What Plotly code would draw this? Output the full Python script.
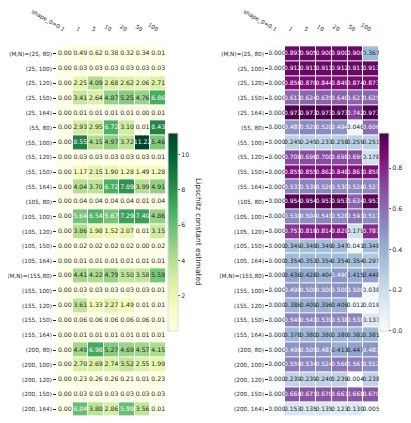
import plotly.graph_objects as go
from plotly.subplots import make_subplots

# Column / row labels
shapes = ["shape_0=0.1", "1", "5", "10", "20", "50", "100"]
rows = ["(M,N)=(25, 80)", "(25, 100)", "(25, 120)", "(25, 150)", "(25, 164)",
        "(55, 80)", "(55, 100)", "(55, 120)", "(55, 150)", "(55, 164)",
        "(105, 80)", "(105, 100)", "(105, 120)", "(105, 150)", "(105, 164)",
        "(M,N)=(155,80)", "(155, 100)", "(155, 120)", "(155, 150)", "(155, 164)",
        "(200, 80)", "(200, 100)", "(200, 120)", "(200, 150)", "(200, 164)"]

# Lipschitz constant estimated
lipschitz = [
    [0.00, 0.49, 0.62, 0.38, 0.32, 0.34, 0.01],
    [0.00, 0.03, 0.03, 0.03, 0.03, 0.03, 0.03],
    [0.00, 2.25, 4.09, 2.68, 2.62, 2.06, 2.71],
    [0.00, 3.41, 2.64, 4.87, 5.25, 4.76, 6.86],
    [0.00, 0.01, 0.01, 0.01, 0.01, 0.00, 0.01],
    [0.00, 2.93, 2.95, 6.72, 3.10, 0.01, 8.43],
    [0.00, 8.55, 4.15, 4.97, 3.72, 11.22, 5.46],
    [0.00, 0.03, 0.03, 0.03, 0.03, 0.03, 0.01],
    [0.00, 1.17, 2.15, 1.90, 1.28, 1.49, 1.28],
    [0.00, 4.04, 3.70, 6.72, 7.89, 3.99, 4.91],
    [0.00, 0.04, 0.04, 0.04, 0.04, 0.01, 0.04],
    [0.00, 5.64, 6.54, 5.67, 7.29, 7.40, 4.86],
    [0.00, 3.86, 1.98, 1.52, 2.07, 0.01, 3.15],
    [0.00, 0.02, 0.02, 0.02, 0.02, 0.00, 0.02],
    [0.00, 0.01, 0.01, 0.01, 0.01, 0.01, 0.01],
    [0.00, 4.41, 4.22, 4.79, 3.50, 3.58, 5.59],
    [0.00, 0.03, 0.03, 0.03, 0.03, 0.03, 0.01],
    [0.00, 3.61, 1.33, 2.27, 1.49, 0.01, 0.01],
    [0.00, 0.06, 0.06, 0.06, 0.06, 0.06, 0.01],
    [0.00, 0.01, 0.01, 0.01, 0.01, 0.01, 0.01],
    [0.00, 4.49, 6.98, 5.27, 4.69, 4.57, 4.15],
    [0.00, 2.70, 2.69, 2.74, 3.52, 2.55, 1.99],
    [0.00, 0.23, 0.26, 0.26, 0.21, 0.01, 0.23],
    [0.00, 0.03, 0.03, 0.03, 0.03, 0.03, 0.03],
    [0.00, 6.04, 3.80, 2.86, 5.99, 3.56, 0.01],
]

# p-values
pvalues = [
    [0.000, 0.897, 0.905, 0.900, 0.900, 0.906, 0.367],
    [0.000, 0.912, 0.911, 0.911, 0.912, 0.911, 0.913],
    [0.000, 0.856, 0.870, 0.844, 0.849, 0.874, 0.873],
    [0.000, 0.613, 0.624, 0.635, 0.640, 0.627, 0.625],
    [0.000, 0.973, 0.973, 0.973, 0.973, 0.742, 0.973],
    [0.000, 0.487, 0.529, 0.520, 0.494, 0.046, 0.606],
    [0.000, 0.245, 0.245, 0.233, 0.258, 0.259, 0.251],
    [0.000, 0.700, 0.696, 0.700, 0.698, 0.699, 0.178],
    [0.000, 0.855, 0.855, 0.862, 0.848, 0.861, 0.858],
    [0.000, 0.537, 0.539, 0.526, 0.530, 0.526, 0.527],
    [0.000, 0.954, 0.954, 0.953, 0.953, 0.634, 0.953],
    [0.000, 0.530, 0.504, 0.541, 0.528, 0.591, 0.517],
    [0.000, 0.757, 0.816, 0.814, 0.829, 0.179, 0.787],
    [0.000, 0.349, 0.348, 0.349, 0.347, 0.041, 0.348],
    [0.000, 0.354, 0.353, 0.354, 0.354, 0.354, 0.297],
    [0.000, 0.436, 0.428, 0.404, 0.490, 0.415, 0.448],
    [0.000, 0.498, 0.500, 0.500, 0.500, 0.500, 0.038],
    [0.000, 0.386, 0.409, 0.396, 0.406, 0.012, 0.018],
    [0.000, 0.540, 0.541, 0.539, 0.538, 0.538, 0.137],
    [0.000, 0.378, 0.380, 0.380, 0.380, 0.382, 0.381],
    [0.000, 0.490, 0.505, 0.487, 0.413, 0.447, 0.487],
    [0.000, 0.559, 0.534, 0.524, 0.566, 0.561, 0.512],
    [0.000, 0.239, 0.239, 0.240, 0.239, 0.004, 0.238],
    [0.000, 0.669, 0.671, 0.670, 0.667, 0.668, 0.670],
    [0.000, 0.153, 0.135, 0.135, 0.123, 0.130, 0.005],
]

FONT = "DejaVu Sans"
DARK = "#262626"
W, H = 411, 423

fig = make_subplots(rows=1, cols=2)


def add_labels(z, fmt, thresh, col, size):
    # split annotations into dark / light text like seaborn does
    for light in (False, True):
        xs, ys, ts = [], [], []
        for i, r in enumerate(rows):
            for j, s in enumerate(shapes):
                v = z[i][j]
                if (v > thresh) == light:
                    xs.append(s)
                    ys.append(r)
                    ts.append(fmt.format(v))
        fig.add_trace(go.Scatter(
            x=xs, y=ys, text=ts, mode="text", showlegend=False, hoverinfo="skip",
            textfont=dict(family=FONT, size=size, color="white" if light else DARK),
        ), row=1, col=col)


cbar_common = dict(xanchor="left", y=0.499, yanchor="middle", len=0.501,
                   thickness=10, xpad=0, ypad=0, ticks="outside", ticklen=2,
                   outlinewidth=1, outlinecolor="#dddddd",
                   tickfont=dict(family=FONT, size=6.3, color=DARK))

fig.add_trace(go.Heatmap(
    z=lipschitz, x=shapes, y=rows, colorscale="YlGn", zmin=0, zmax=11.22,
    xgap=1, ygap=1,
    colorbar=dict(x=160 / W, tickvals=[2, 4, 6, 8, 10], **cbar_common),
), row=1, col=1)
add_labels(lipschitz, "{:.2f}", 5.6, 1, 6.2)

fig.add_trace(go.Heatmap(
    z=pvalues, x=shapes, y=rows, colorscale="BuPu", zmin=0, zmax=0.973,
    xgap=1, ygap=1,
    colorbar=dict(x=371 / W, tickvals=[0, 0.2, 0.4, 0.6, 0.8], tickformat=".1f",
                  title=dict(text="p-values", side="right",
                             font=dict(family=FONT, size=7.5, color=DARK)),
                  **cbar_common),
), row=1, col=2)
add_labels(pvalues, "{:.3f}", 0.46, 2, 6)

ax_common = dict(type="category", showgrid=False, zeroline=False, showline=False,
                 automargin=False, tickfont=dict(family=FONT, size=5.7, color=DARK))

fig.update_xaxes(**ax_common, side="top", tickangle=30, ticks="", ticklen=0)
fig.update_yaxes(**ax_common, autorange="reversed", ticks="outside", ticklen=3,
                 tickcolor=DARK)
fig.update_layout(
    xaxis=dict(domain=[49 / W, 158 / W]),
    xaxis2=dict(domain=[261 / W, 371 / W]),
)

fig.add_annotation(text="Lipschitz constant estimated", textangle=90,
                   x=190 / W, y=0.499, xref="paper", yref="paper",
                   xanchor="center", yanchor="middle",
                   showarrow=False, font=dict(family=FONT, size=7.5, color=DARK))

fig.update_layout(
    width=W, height=H,
    margin=dict(l=0, r=0, t=26, b=2),
    plot_bgcolor="white", paper_bgcolor="white",
    font=dict(family=FONT, color=DARK),
)

fig.write_html("out.html")
